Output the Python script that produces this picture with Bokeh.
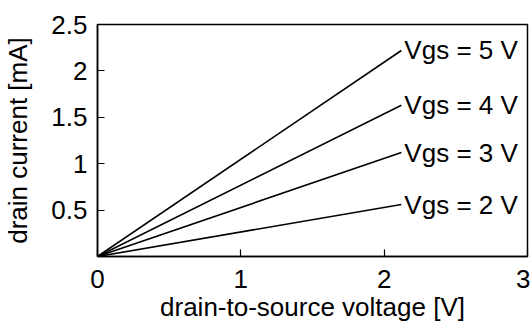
from bokeh.plotting import figure
from bokeh.models import FixedTicker
from bokeh.embed import file_html
from bokeh.resources import INLINE
from bokeh.core.properties import value

# Output characteristics: drain current vs drain-to-source voltage
vgs_labels = ["Vgs = 2 V", "Vgs = 3 V", "Vgs = 4 V", "Vgs = 5 V"]
vds_start = [0.0, 0.0, 0.0, 0.0]
id_start = [0.0, 0.0, 0.0, 0.0]
vds_end = [2.12, 2.12, 2.12, 2.12]
id_end = [0.56, 1.12, 1.63, 2.22]

x_ticks = [0, 1, 2, 3]
x_tick_labels = ["0", "1", "2", "3"]
y_ticks = [0.5, 1, 1.5, 2, 2.5]
y_tick_labels = ["0.5", "1", "1.5", "2", "2.5"]

FONT = "Liberation Sans"
FS = "26px"

p = figure(
    width=530, height=324,
    x_range=(0, 3), y_range=(0, 2.5),
    output_backend="svg", toolbar_location=None,
    min_border_left=97, min_border_right=3,
    min_border_top=24, min_border_bottom=67,
)
p.background_fill_color = "white"
p.border_fill_color = "white"
p.outline_line_color = "black"
p.outline_line_width = 1.5
p.xgrid.visible = False
p.ygrid.visible = False

xs = [[a, b] for a, b in zip(vds_start, vds_end)]
ys = [[a, b] for a, b in zip(id_start, id_end)]
p.multi_line(xs=xs, ys=ys, line_color="black", line_width=1.6)

p.text(
    x=vds_end, y=id_end, text=vgs_labels,
    x_offset=3, text_align="left", text_baseline="middle",
    text_font=value(FONT), text_font_size=FS, text_color="black",
)

for ax, ticks, labels, name in (
    (p.xaxis[0], x_ticks, x_tick_labels, "drain-to-source voltage [V]"),
    (p.yaxis[0], y_ticks, y_tick_labels, "drain current [mA]"),
):
    ax.ticker = FixedTicker(ticks=ticks)
    ax.major_label_overrides = {t: s for t, s in zip(ticks, labels)}
    ax.axis_label = name
    ax.axis_label_text_font = FONT
    ax.axis_label_text_font_size = FS
    ax.axis_label_text_font_style = "normal"
    ax.axis_label_text_color = "black"
    ax.major_label_text_font = FONT
    ax.major_label_text_font_size = FS
    ax.major_label_text_color = "black"
    ax.axis_line_color = "black"
    ax.axis_line_width = 1.5
    ax.major_tick_line_color = "black"
    ax.major_tick_line_width = 1.2
    ax.major_tick_in = 7
    ax.major_tick_out = 0
    ax.minor_tick_line_color = None

p.xaxis.major_label_standoff = 13
p.xaxis.axis_label_standoff = 1
p.yaxis.major_label_standoff = 10
p.yaxis.axis_label_standoff = 15

open("out.html", "w").write(file_html(p, INLINE))
